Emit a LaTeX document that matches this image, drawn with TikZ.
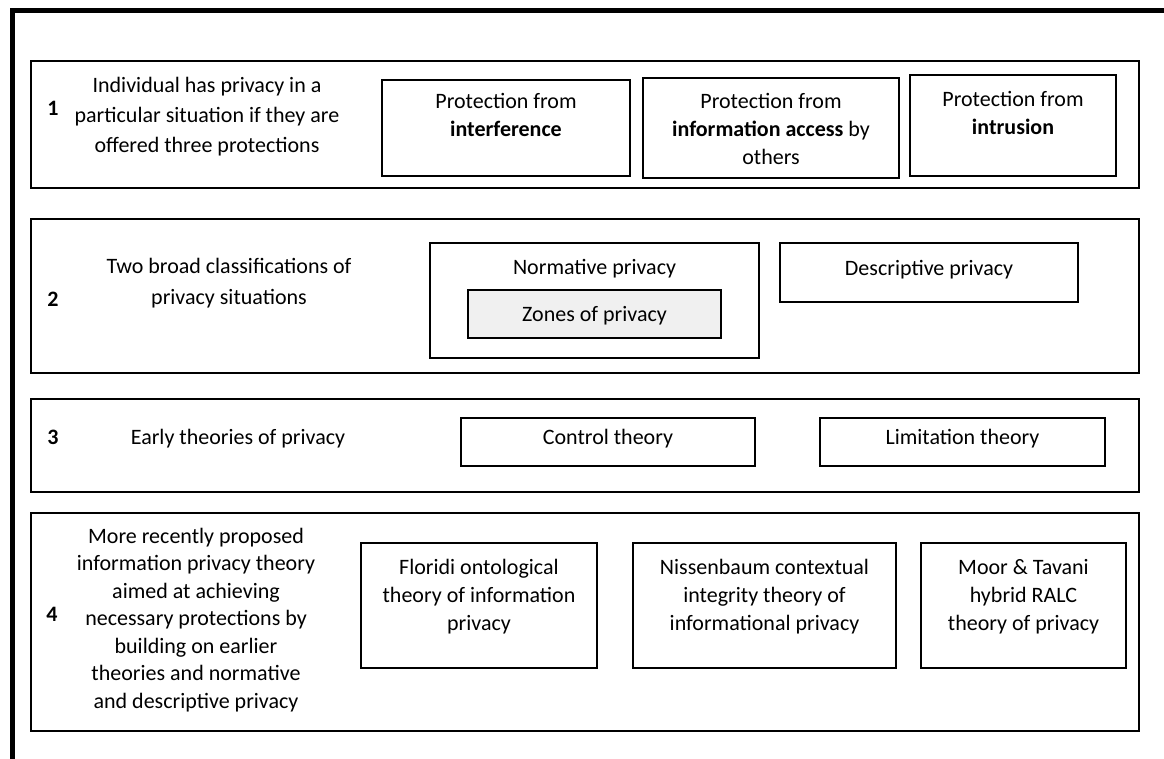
\documentclass[tikz,border=0pt]{standalone}
\usepackage{fontspec}
\setmainfont{Carlito}
\usetikzlibrary{fit}
\begin{document}
\begin{tikzpicture}[x=1pt,y=-1pt,
  rowbox/.style={draw=black, line width=1.4pt, inner sep=0pt},
  itembox/.style={draw=black, line width=1.8pt, inner sep=0pt},
  txt/.style={font=\fontsize{22}{28}\selectfont, align=center, inner sep=0pt, anchor=base},
  lbl/.style={font=\fontsize{22}{30}\selectfont, align=center, inner sep=0pt, anchor=base},
  num/.style={font=\fontsize{22}{28}\selectfont\bfseries, inner sep=0pt}]
\useasboundingbox (0,0) rectangle (1164,759);
\fill[white] (0,0) rectangle (1164,759);
% outer frame (only top and left visible)
\draw[line width=5pt] (12.5,790) -- (12.5,11) -- (1190,11);

% ---------- Row 1 ----------
\node[rowbox, fit={(31,61) (1139,188)}] (r1) {};
\node[num] (n1) at (53,108) {1};
\node[lbl] (l1) at (207,153) {Individual has privacy in a\\particular situation if they are\\offered three protections};
\node[itembox, fit={(382,80) (630,176)}] (b11) {};
\node[txt] (t11) at (506,137) {Protection from\\\textbf{interference}};
\node[itembox, fit={(643,78) (899,178)}] (b12) {};
\node[txt] (t12) at (771,165) {Protection from\\\textbf{information access} by\\others};
\node[itembox, fit={(910,75) (1116,176)}] (b13) {};
\node[txt] (t13) at (1013,135) {Protection from\\\textbf{intrusion}};

% ---------- Row 2 ----------
\node[rowbox, fit={(31,219) (1139,373)}] (r2) {};
\node[num] (n2) at (53,299) {2};
\node[lbl, font=\fontsize{22}{31}\selectfont] (l2) at (229,305) {Two broad classifications of\\privacy situations};
\node[itembox, fit={(430,243) (759,358)}] (b21) {};
\node[txt] (t21) at (594.5,275) {Normative privacy};
\node[itembox, fill=black!6, fit={(468,290) (721,338)}] (b22) {};
\node[txt] (t22) at (594.5,321) {Zones of privacy};
\node[itembox, fit={(780,243) (1078,302)}] (b23) {};
\node[txt] (t23) at (929,276) {Descriptive privacy};

% ---------- Row 3 ----------
\node[rowbox, fit={(31,399) (1139,492)}] (r3) {};
\node[num] (n3) at (53,437) {3};
\node[txt] (l3) at (238,444) {Early theories of privacy};
\node[itembox, fit={(461,418) (755,466)}] (b31) {};
\node[txt] (t31) at (608,444) {Control theory};
\node[itembox, fit={(820,418) (1105,466)}] (b32) {};
\node[txt] (t32) at (962.5,444) {Limitation theory};

% ---------- Row 4 ----------
\node[rowbox, fit={(31,513) (1139,731)}] (r4) {};
\node[num] (n4) at (52,614) {4};
\node[txt, font=\fontsize{22}{27.5}\selectfont] (l4) at (196,708) {More recently proposed\\information privacy theory\\aimed at achieving\\necessary protections by\\building on earlier\\theories and normative\\and descriptive privacy};
\node[itembox, fit={(361,543) (597,668)}] (b41) {};
\node[txt] (t41) at (479,630) {Floridi ontological\\theory of information\\privacy};
\node[itembox, fit={(633,543) (896,668)}] (b42) {};
\node[txt] (t42) at (764.5,630) {Nissenbaum contextual\\integrity theory of\\informational privacy};
\node[itembox, fit={(921,543) (1126,668)}] (b43) {};
\node[txt] (t43) at (1023.5,630) {Moor \& Tavani\\hybrid RALC\\theory of privacy};
\end{tikzpicture}
\end{document}
